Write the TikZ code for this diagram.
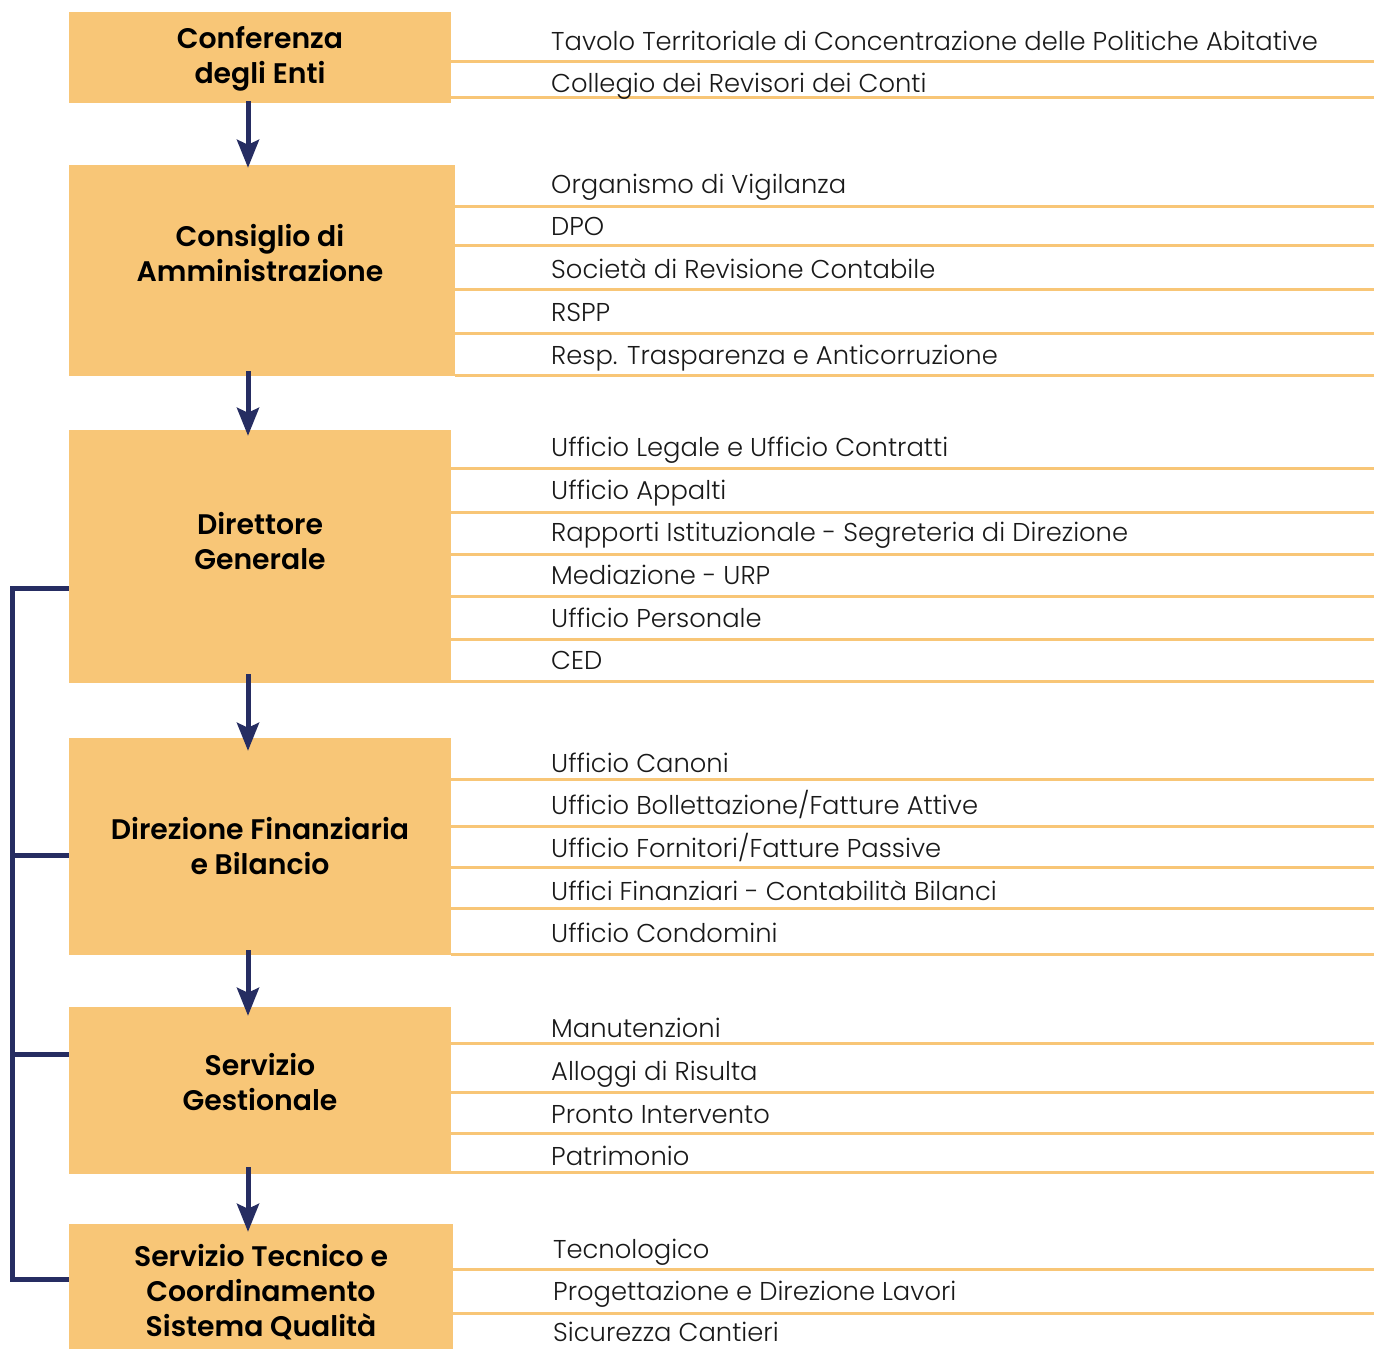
\documentclass[tikz,border=0pt]{standalone}
\usepackage{fontspec}
\setmainfont{Poppins}[UprightFont=* SemiBold]
\newfontfamily\itemfont{Poppins}[UprightFont=* Light]
\usepackage{xcolor}
\usepackage{tikz}
\usetikzlibrary{arrows.meta,positioning,calc}

\definecolor{boxfill}{HTML}{F8C677}
\definecolor{navy}{HTML}{262D62}

\begin{document}
\begin{tikzpicture}[
    x=1pt, y=-1pt,
    unitbox/.style={rectangle, fill=boxfill, inner sep=0pt},
    unitlabel/.style={align=center, font=\fontsize{28.3}{35}\selectfont, text=black},
    item/.style={anchor=base west, inner sep=0pt, font=\itemfont\fontsize{25.8}{30}\selectfont, text=black!90},
    sep/.style={boxfill, line width=3pt},
    flow/.style={-{Stealth[width=22pt, length=28pt, inset=5pt]}, navy, line width=5pt},
    bracket/.style={navy, line width=5pt}
]
    \useasboundingbox (0,0) rectangle (1384,1349);

    % Units
    \node[unitbox, minimum width=382pt, minimum height=91pt] (ce) at (260,57.5) {};
    \node[unitbox, minimum width=386pt, minimum height=211pt] (cda) at (262,270.5) {};
    \node[unitbox, minimum width=382pt, minimum height=253pt] (dg) at (260,556.5) {};
    \node[unitbox, minimum width=382pt, minimum height=217pt] (dfb) at (260,846.5) {};
    \node[unitbox, minimum width=382pt, minimum height=167pt] (sg) at (260,1090.5) {};
    \node[unitbox, minimum width=384pt, minimum height=125pt] (st) at (261,1286.5) {};

    % Unit labels
    \node[unitlabel] (ce-label) at (260,58.5) {Conferenza\\degli Enti};
    \node[unitlabel] (cda-label) at (260,253.5) {Consiglio di\\Amministrazione};
    \node[unitlabel] (dg-label) at (260,541.5) {Direttore\\Generale};
    \node[unitlabel] (dfb-label) at (260,846.5) {Direzione Finanziaria\\e Bilancio};
    \node[unitlabel] (sg-label) at (260,1082.5) {Servizio\\Gestionale};
    \node[unitlabel] (st-label) at (261,1292) {Servizio Tecnico e\\Coordinamento\\Sistema Qualità};

    % Offices - Conferenza degli Enti
    \foreach \y in {61,97}
        \draw[sep] (ce.east |- 0,\y) -- (1374,\y);
    \foreach \y/\t [count=\i] in {50/{Tavolo Territoriale di Concentrazione delle Politiche Abitative},
                                92/{Collegio dei Revisori dei Conti}}
        \node[item] (ce-\i) at (551,\y) {\t};

    % Offices - Consiglio di Amministrazione
    \foreach \y in {206,245,289,333,375}
        \draw[sep] (cda.east |- 0,\y) -- (1374,\y);
    \foreach \y/\t [count=\i] in {193/{Organismo di Vigilanza}, 235/{DPO},
                                278/{Società di Revisione Contabile}, 321/{RSPP},
                                364/{Resp. Trasparenza e Anticorruzione}}
        \node[item] (cda-\i) at (551,\y) {\t};

    % Offices - Direttore Generale
    \foreach \y in {468,512,554,596,639,681}
        \draw[sep] (dg.east |- 0,\y) -- (1374,\y);
    \foreach \y/\t [count=\i] in {456/{Ufficio Legale e Ufficio Contratti}, 499/{Ufficio Appalti},
                                541/{Rapporti Istituzionale - Segreteria di Direzione},
                                584/{Mediazione - URP}, 627/{Ufficio Personale}, 669/{CED}}
        \node[item] (dg-\i) at (551,\y) {\t};

    % Offices - Direzione Finanziaria e Bilancio
    \foreach \y in {779,826,867,908,954}
        \draw[sep] (dfb.east |- 0,\y) -- (1374,\y);
    \foreach \y/\t [count=\i] in {772/{Ufficio Canoni}, 814/{Ufficio Bollettazione/Fatture Attive},
                                857/{Ufficio Fornitori/Fatture Passive},
                                900/{Uffici Finanziari - Contabilità Bilanci}, 942/{Ufficio Condomini}}
        \node[item] (dfb-\i) at (551,\y) {\t};

    % Offices - Servizio Gestionale
    \foreach \y in {1043,1092,1133,1172}
        \draw[sep] (sg.east |- 0,\y) -- (1374,\y);
    \foreach \y/\t [count=\i] in {1037/{Manutenzioni}, 1080/{Alloggi di Risulta},
                                1123/{Pronto Intervento}, 1165/{Patrimonio}}
        \node[item] (sg-\i) at (551,\y) {\t};

    % Offices - Servizio Tecnico
    \foreach \y in {1269,1313}
        \draw[sep] (st.east |- 0,\y) -- (1374,\y);
    \foreach \y/\t [count=\i] in {1258/{Tecnologico}, 1300/{Progettazione e Direzione Lavori},
                                1341/{Sicurezza Cantieri}}
        \node[item] (st-\i) at (553,\y) {\t};

    % Hierarchy arrows (all on one vertical axis)
    \coordinate (axis) at (248,0);
    \draw[flow] ([yshift=2pt]ce.south -| axis) -- ([yshift=-3pt]cda.north -| axis);
    \draw[flow] ([yshift=5pt]cda.south -| axis) -- ([yshift=-6pt]dg.north -| axis);
    \draw[flow] ([yshift=9pt]dg.south -| axis) -- ([yshift=-13pt]dfb.north -| axis);
    \draw[flow] ([yshift=5pt]dfb.south -| axis) -- ([yshift=-9pt]sg.north -| axis);
    \draw[flow] ([yshift=7pt]sg.south -| axis) -- ([yshift=-8pt]st.north -| axis);

    % Staff bracket
    \coordinate (spine-top) at (12,588);
    \coordinate (spine-dfb) at (12,855);
    \coordinate (spine-sg) at (12,1054);
    \coordinate (spine-bot) at (12,1279);
    \draw[bracket] (dg.west |- spine-top) -- (spine-top) -- (spine-bot) -- (st.west |- spine-bot);
    \draw[bracket] (spine-dfb) -- (dfb.west |- spine-dfb);
    \draw[bracket] (spine-sg) -- (sg.west |- spine-sg);
\end{tikzpicture}
\end{document}
